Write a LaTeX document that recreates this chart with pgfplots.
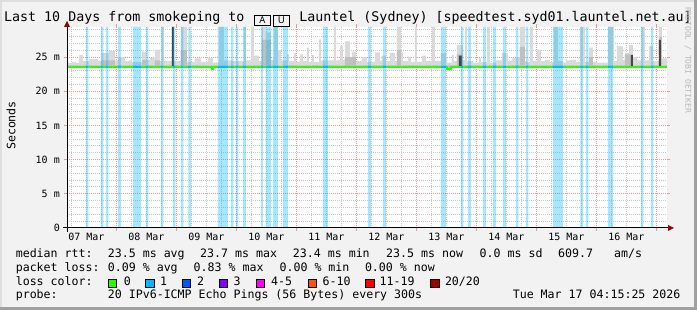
\documentclass[border=0pt]{standalone}
\usepackage{fontspec}
\setmainfont{DejaVu Sans Mono}
\newfontfamily\emojifont{Noto Emoji}
\usepackage{pgfplots}
\usepackage{pgfplotstable}
\pgfplotsset{compat=1.18}

\definecolor{bg}{RGB}{242,242,242}
\definecolor{mgridc}{RGB}{240,150,150}
\definecolor{gridc}{RGB}{200,200,200}
\definecolor{lossA}{HTML}{26FF00}
\definecolor{lossB}{HTML}{00B8FF}
\definecolor{lossC}{HTML}{0059FF}
\definecolor{lossD}{HTML}{7E00FF}
\definecolor{lossE}{HTML}{FF00FF}
\definecolor{lossF}{HTML}{FF5500}
\definecolor{lossG}{HTML}{FF0000}
\definecolor{lossH}{HTML}{A10000}
\definecolor{smokeL}{RGB}{218,218,218}
\definecolor{smokeM}{RGB}{192,192,192}
\definecolor{smokeD}{RGB}{70,70,70}
\definecolor{arrowc}{RGB}{150,0,0}
\definecolor{wmark}{RGB}{185,185,185}
\definecolor{shadeB}{RGB}{160,160,160}
\definecolor{shadeA}{RGB}{222,222,222}

\newcommand\lgf{\fontsize{11.6}{13}\selectfont}
\newcommand\tofu[1]{{\fboxsep=1.5pt\fboxrule=0.8pt\fbox{\makebox[12.5pt][c]{\emojifont\fontsize{9.5}{10}\selectfont\char"#1}}}}

% hours since 07 Mar 00:00; smoke = region between max ping (envelope) and min ping (23.45)
\pgfplotstableread{
h v
4.257 24.1
6.24 24.3
7.84 24.1
9.04 25.3
10.64 24.4
13.04 24.7
16.64 24.4
17.84 25.6
21.04 25.9
23.44 24.5
24.64 24.8
25.44 25.0
27.44 24.4
29.04 24.5
30.24 24.3
34.24 25.8
35.84 24.6
37.44 24.9
39.44 26.1
41.44 24.4
42.24 29.4
43.04 24.4
46.24 29.4
47.04 24.4
49.84 29.4
52.24 24.3
55.44 24.8
57.84 24.3
60.64 24.9
62.64 24.2
65.04 29.4
67.04 24.5
70.24 24.4
75.04 29.4
75.84 24.5
77.84 29.4
79.04 25.2
81.04 24.4
82.24 29.4
83.84 28.6
85.84 24.6
87.04 29.4
88.64 26.0
89.84 24.5
92.24 25.4
93.04 24.4
95.04 25.6
95.84 24.3
97.44 25.4
98.64 24.4
100.24 26.4
101.04 24.3
102.24 25.3
103.04 24.3
105.04 27.6
105.84 24.5
111.04 29.4
111.84 24.5
113.44 26.6
114.64 24.6
115.44 27.3
117.44 24.6
118.24 25.8
119.84 24.4
122.24 25.0
124.24 24.3
127.44 25.7
129.44 24.4
130.24 25.2
131.84 24.4
133.44 25.6
135.44 24.4
136.24 29.4
137.84 25.7
138.64 24.4
140.64 25.0
141.84 24.3
143.44 29.4
144.24 24.3
146.24 25.2
147.84 24.4
150.24 29.4
151.44 24.4
153.84 25.6
156.24 24.2
158.24 25.3
159.04 24.4
160.24 26.8
162.64 24.5
163.44 29.4
164.24 24.4
166.64 24.2
169.04 24.8
169.84 24.3
172.24 29.4
173.44 24.2
175.84 24.5
178.24 25.6
180.64 24.4
182.24 24.8
184.24 25.0
185.44 29.4
187.44 24.4
188.24 24.3
189.44 29.4
190.64 24.4
192.24 26.1
193.84 24.4
195.44 24.6
197.44 24.3
199.04 29.4
200.64 24.4
202.64 24.2
203.84 24.5
205.44 24.6
207.84 24.3
209.44 29.4
211.44 24.3
213.04 26.4
214.64 24.3
216.24 24.2
220.64 29.4
223.04 24.4
224.24 26.6
226.64 24.5
227.44 25.6
229.04 26.8
230.64 25.0
232.24 24.5
234.24 29.4
235.44 24.5
237.04 26.6
238.64 24.4
241.04 29.4
242.24 24.8
244.257 24.8
244.257 23.45
4.257 23.45
}\smokeLtab

\pgfplotstableread{
h v
4.257 23.8
17.84 24.5
23.44 23.8
34.24 24.6
35.84 23.8
39.44 24.5
41.44 23.8
49.84 26.0
52.24 23.8
82.24 27.5
85.84 23.8
115.44 25.0
119.84 23.8
136.24 26.0
137.84 23.8
160.24 25.4
162.64 23.8
185.44 26.5
187.44 23.8
213.04 25.0
214.64 23.8
227.44 25.4
230.64 23.8
241.04 28.0
242.24 23.8
244.257 23.8
244.257 23.45
4.257 23.45
}\smokeMtab

\pgfplotstableread{
h v
4.257 23.45
46.24 29.4
47.04 23.45
161.04 25.2
162.24 23.45
229.84 25.3
230.64 23.45
241.04 27.5
241.84 23.45
244.257 23.45
244.257 23.45
4.257 23.45
}\smokeDtab

\pgfplotstableread{
h v
4.257 0
11.84 29.4
12.84 0
17.84 29.4
18.84 0
19.84 29.4
20.84 0
24.64 29.4
25.84 0
30.64 29.4
33.84 0
35.84 29.4
36.84 0
41.84 29.4
42.84 0
46.64 29.4
47.64 0
49.84 29.4
50.84 0
52.84 29.4
53.84 0
64.64 29.4
68.64 0
69.84 29.4
70.84 0
71.84 29.4
72.84 0
74.64 29.4
75.84 0
81.84 29.4
82.64 0
83.84 29.4
85.84 0
86.64 29.4
88.64 0
90.64 29.4
92.64 0
106.64 29.4
108.64 0
124.64 29.4
125.84 0
130.64 29.4
131.84 0
153.84 29.4
155.84 0
161.84 29.4
162.84 0
164.64 29.4
165.84 0
170.64 29.4
171.84 0
174.64 29.4
175.84 0
178.64 29.4
179.84 0
183.84 29.4
184.84 0
187.84 29.4
188.84 0
198.64 29.4
202.64 0
209.64 29.4
210.64 0
211.84 29.4
212.84 0
220.64 29.4
222.64 0
233.84 29.4
234.84 0
237.84 29.4
238.84 0
244.257 0
}\stripetab

\pgfplotstableread{
h v
4.257 23.5
62.24 23.3
62.64 23.5
98.24 23.6
99.84 23.5
156.24 23.3
157.84 23.5
224.24 23.6
228.24 23.5
244.257 23.5
}\mediantab

\pgfplotstableread{
h v
11.84 23.5
12.84 23.5
12.84 nan
17.84 23.5
18.84 23.5
18.84 nan
19.84 23.5
20.84 23.5
20.84 nan
24.64 23.5
25.84 23.5
25.84 nan
30.64 23.5
33.84 23.5
33.84 nan
35.84 23.5
36.84 23.5
36.84 nan
41.84 23.5
42.84 23.5
42.84 nan
46.64 23.5
47.64 23.5
47.64 nan
49.84 23.5
50.84 23.5
50.84 nan
52.84 23.5
53.84 23.5
53.84 nan
64.64 23.5
68.64 23.5
68.64 nan
69.84 23.5
70.84 23.5
70.84 nan
71.84 23.5
72.84 23.5
72.84 nan
74.64 23.5
75.84 23.5
75.84 nan
81.84 23.5
82.64 23.5
82.64 nan
83.84 23.5
85.84 23.5
85.84 nan
86.64 23.5
88.64 23.5
88.64 nan
90.64 23.5
92.64 23.5
92.64 nan
106.64 23.5
108.64 23.5
108.64 nan
124.64 23.5
125.84 23.5
125.84 nan
130.64 23.5
131.84 23.5
131.84 nan
153.84 23.5
155.84 23.5
155.84 nan
161.84 23.5
162.84 23.5
162.84 nan
164.64 23.5
165.84 23.5
165.84 nan
170.64 23.5
171.84 23.5
171.84 nan
174.64 23.5
175.84 23.5
175.84 nan
178.64 23.5
179.84 23.5
179.84 nan
183.84 23.5
184.84 23.5
184.84 nan
187.84 23.5
188.84 23.5
188.84 nan
198.64 23.5
202.64 23.5
202.64 nan
209.64 23.5
210.64 23.5
210.64 nan
211.84 23.5
212.84 23.5
212.84 nan
220.64 23.5
222.64 23.5
222.64 nan
233.84 23.5
234.84 23.5
234.84 nan
237.84 23.5
238.84 23.5
}\losstab

\begin{document}
\begin{tikzpicture}[x=1pt,y=1pt]
\fill[bg] (0,0) rectangle (697,310);
\fill[shadeA] (0,308) rectangle (697,310);
\fill[shadeA] (0,0) rectangle (2,310);
\fill[shadeB] (0,0) rectangle (697,3);
\fill[shadeB] (694,0) rectangle (697,310);

\begin{axis}[
  at={(67pt,82pt)}, anchor=south west,
  scale only axis, width=600pt, height=201pt,
  xmin=4.257, xmax=244.257, ymin=0, ymax=29.4,
  axis background/.style={fill=white},
  axis line style={draw=none},
  xtick={24,48,...,240}, xticklabels={},
  minor xtick={6,12,18,30,36,42,54,60,66,78,84,90,102,108,114,126,132,138,150,156,162,174,180,186,198,204,210,222,228,234},
  ytick={0,5,10,15,20,25},
  yticklabels={0,5 m,10 m,15 m,20 m,25 m},
  minor ytick={1,2,3,4,6,7,8,9,11,12,13,14,16,17,18,19,21,22,23,24,26,27,28,29},
  grid=both,
  major grid style={mgridc, dash pattern=on 1pt off 1pt, line width=1pt},
  minor grid style={gridc, dash pattern=on 1pt off 1pt, line width=1pt},
  tick align=outside, major tick length=3pt, minor tick length=0pt,
  major tick style={mgridc, line width=1pt},
  extra x ticks={12,36,60,84,108,132,156,180,204,228},
  extra x tick labels={07 Mar,08 Mar,09 Mar,10 Mar,11 Mar,12 Mar,13 Mar,14 Mar,15 Mar,16 Mar},
  extra x tick style={grid=none, major tick length=0pt,
     xticklabel style={anchor=base, yshift=-13pt}},
  xticklabel style={font=\fontsize{10}{12}\selectfont, inner sep=0pt},
  yticklabel style={font=\fontsize{10}{12}\selectfont, inner sep=0pt, anchor=east, xshift=-4pt},
  clip=true,
]
% smoke bands (between min and max ping)
\addplot[const plot mark left, draw=none, fill=smokeL] table[x=h,y=v] {\smokeLtab};
\addplot[const plot mark left, draw=none, fill=smokeM] table[x=h,y=v] {\smokeMtab};
\addplot[const plot mark left, draw=none, fill=smokeD] table[x=h,y=v] {\smokeDtab};
% loss background
\addplot[const plot mark left, draw=none, fill=lossB, fill opacity=0.35] table[x=h,y=v] {\stripetab} \closedcycle;
% median
\addplot[const plot mark left, lossA, line width=2.2pt] table[x=h,y=v] {\mediantab};
\addplot[lossB, line width=2.2pt, unbounded coords=jump] table[x=h,y=v] {\losstab};
\end{axis}

% axis lines with arrows
\draw[line width=1pt, black] (63,82) -- (668,82);
\fill[arrowc] (668,79) -- (674,82) -- (668,85) -- cycle;
\draw[line width=1pt, black] (67,78) -- (67,283);
\fill[arrowc] (64,283) -- (67,289) -- (70,283) -- cycle;

% title
\node[anchor=base west, inner sep=0pt] at (4,288) {\fontsize{13.3}{15}\selectfont Last 10 Days from smokeping to \makebox[39pt][c]{\raisebox{-2pt}{\tofu{1F1E6}}\kern2pt\raisebox{-2pt}{\tofu{1F1FA}}} Launtel (Sydney) [speedtest.syd01.launtel.net.au]};

% watermark
\node[rotate=-90, inner sep=0pt, text=wmark] at (688,250) {\fontsize{8}{9}\selectfont RRDTOOL / TOBI OETIKER};

% y label
\node[rotate=90, inner sep=0pt] at (11,184.5) {\lgf Seconds};

% legend
\node[anchor=base west, inner sep=0pt] at (15.6,52.5) {\lgf median rtt:};
\node[anchor=base west, inner sep=0pt] at (107.7,52.5) {\lgf 23.5 ms avg};
\node[anchor=base west, inner sep=0pt] at (200,52.5) {\lgf 23.7 ms max};
\node[anchor=base west, inner sep=0pt] at (292.7,52.5) {\lgf 23.4 ms min};
\node[anchor=base west, inner sep=0pt] at (386,52.5) {\lgf 23.5 ms now};
\node[anchor=base west, inner sep=0pt] at (479.5,52.5) {\lgf 0.0 ms sd};
\node[anchor=base west, inner sep=0pt] at (558,52.5) {\lgf 609.7};
\node[anchor=base west, inner sep=0pt] at (614,52.5) {\lgf am/s};

\node[anchor=base west, inner sep=0pt] at (15.6,38.5) {\lgf packet loss:};
\node[anchor=base west, inner sep=0pt] at (107.7,38.5) {\lgf 0.09 \% avg};
\node[anchor=base west, inner sep=0pt] at (193.5,38.5) {\lgf 0.83 \% max};
\node[anchor=base west, inner sep=0pt] at (279.4,38.5) {\lgf 0.00 \% min};
\node[anchor=base west, inner sep=0pt] at (364.8,38.5) {\lgf 0.00 \% now};

\node[anchor=base west, inner sep=0pt] at (15.6,24.5) {\lgf loss color:};
\filldraw[fill=lossA, draw=black, line width=0.8pt] (108,23) rectangle (116.5,31);
\node[anchor=base west, inner sep=0pt] at (123.7,24.5) {\lgf 0};
\filldraw[fill=lossB, draw=black, line width=0.8pt] (145.5,23) rectangle (154,31);
\node[anchor=base west, inner sep=0pt] at (160,24.5) {\lgf 1};
\filldraw[fill=lossC, draw=black, line width=0.8pt] (182.4,23) rectangle (190.8,31);
\node[anchor=base west, inner sep=0pt] at (197,24.5) {\lgf 2};
\filldraw[fill=lossD, draw=black, line width=0.8pt] (219,23) rectangle (227.5,31);
\node[anchor=base west, inner sep=0pt] at (233.5,24.5) {\lgf 3};
\filldraw[fill=lossE, draw=black, line width=0.8pt] (256,23) rectangle (264.5,31);
\node[anchor=base west, inner sep=0pt] at (271,24.5) {\lgf 4-5};
\filldraw[fill=lossF, draw=black, line width=0.8pt] (308,23) rectangle (316.5,31);
\node[anchor=base west, inner sep=0pt] at (322.5,24.5) {\lgf 6-10};
\filldraw[fill=lossG, draw=black, line width=0.8pt] (365.6,23) rectangle (374,31);
\node[anchor=base west, inner sep=0pt] at (379.4,24.5) {\lgf 11-19};
\filldraw[fill=lossH, draw=black, line width=0.8pt] (430.6,23) rectangle (439,31);
\node[anchor=base west, inner sep=0pt] at (444.8,24.5) {\lgf 20/20};

\node[anchor=base west, inner sep=0pt] at (15.6,11) {\lgf probe:};
\node[anchor=base west, inner sep=0pt] at (107.7,11) {\lgf 20 IPv6-ICMP Echo Pings (56 Bytes) every 300s};
\node[anchor=base east, inner sep=0pt] at (680.6,11) {\lgf Tue Mar 17 04:15:25 2026};

\pgfresetboundingbox
\useasboundingbox (0,0) rectangle (697,310);
\end{tikzpicture}
\end{document}
